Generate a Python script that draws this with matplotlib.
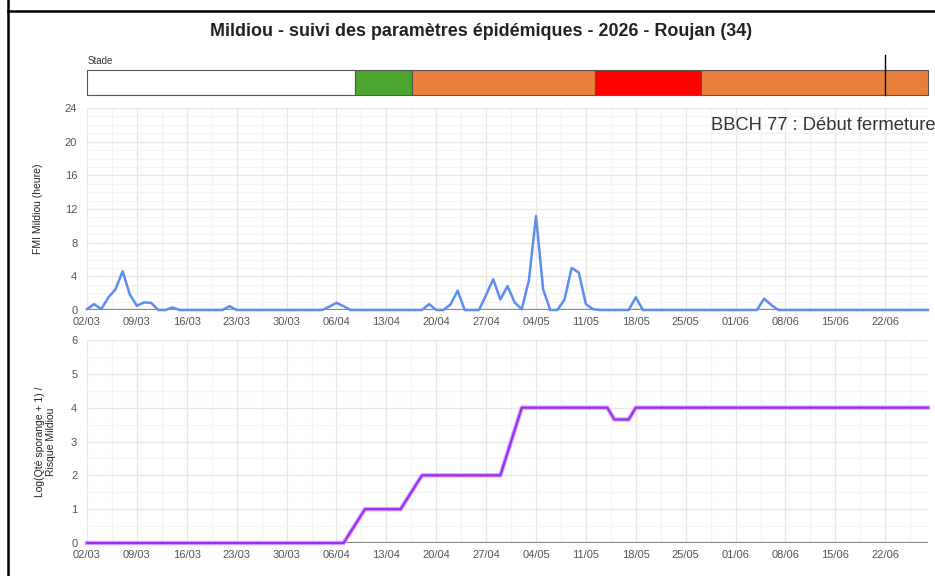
import numpy as np
import matplotlib.pyplot as plt
from matplotlib.lines import Line2D
from matplotlib.ticker import MultipleLocator

plt.rcParams['font.family'] = ['Liberation Sans', 'DejaVu Sans']

# Data, one value per day starting 02/03
fmi = [0.1, 0.7, 0.1, 1.5, 2.45, 4.6, 1.85,      # 02/03
       0.5, 0.9, 0.85, 0, 0, 0.3, 0,             # 09/03
       0, 0, 0, 0, 0, 0, 0.45,                   # 16/03
       0, 0, 0, 0, 0, 0, 0,                      # 23/03
       0, 0, 0, 0, 0, 0, 0.4,                    # 30/03
       0.85, 0.45, 0, 0, 0, 0, 0,                # 06/04
       0, 0, 0, 0, 0, 0, 0.7,                    # 13/04
       0, 0, 0.65, 2.3, 0, 0, 0,                 # 20/04
       1.8, 3.65, 1.25, 2.85, 0.9, 0.1, 3.5,     # 27/04
       11.15, 2.45, 0, 0, 1.25, 5.0, 4.45,       # 04/05
       0.7, 0.1, 0, 0, 0, 0, 0,                  # 11/05
       1.5, 0, 0, 0, 0, 0, 0,                    # 18/05
       0, 0, 0, 0, 0, 0, 0,                      # 25/05
       0, 0, 0, 0, 1.35, 0.6, 0,                 # 01/06
       0, 0, 0, 0, 0, 0, 0,                      # 08/06
       0, 0, 0, 0, 0, 0, 0,                      # 15/06
       0, 0, 0, 0, 0, 0, 0]                      # 22/06

# risk curve vertices (day offset, value)
risk_days = [0, 36, 39, 44, 47, 58, 61, 73, 74, 76, 77, 118]
risk_vals = [0, 0, 1, 1, 2, 2, 4, 4, 3.65, 3.65, 4, 4]

date_labels = ['02/03', '09/03', '16/03', '23/03', '30/03', '06/04', '13/04',
               '20/04', '27/04', '04/05', '11/05', '18/05', '25/05', '01/06',
               '08/06', '15/06', '22/06']

stage_bounds = [0, 37.6, 45.6, 71.3, 86.2, 118]
stage_colors = ['white', '#4ca52f', '#e8803b', '#ff0000', '#e8803b']
today = 112

title = 'Mildiou - suivi des paramètres épidémiques - 2026 - Roujan (34)'
stage_text = 'BBCH 77 : Début fermeture'

days = np.arange(len(fmi))
xmax = 118
tick_pos = np.arange(len(date_labels)) * 7

fig = plt.figure(figsize=(9.35, 5.76), dpi=100)

# frame lines
fig.add_artist(Line2D([8/935, 8/935], [0, 1], color='black', lw=1.8))
fig.add_artist(Line2D([8/935, 1], [1 - 11/576, 1 - 11/576], color='black', lw=1.8))

fig.text(481/935, 1 - 31/576, title, ha='center', va='center',
         fontsize=12.9, fontweight='bold', color='#222222')

# stage bar
axs = fig.add_axes([87/935, 1 - 95/576, 841/935, 25/576])
for i in range(len(stage_colors)):
    axs.barh(0.5, stage_bounds[i+1] - stage_bounds[i], left=stage_bounds[i], height=1,
             color=stage_colors[i], edgecolor='#555555', lw=0.8, clip_on=False)
axs.plot([today, today], [0, 1.6], color='black', lw=1, clip_on=False)
axs.set_xlim(0, xmax)
axs.set_ylim(0, 1)
axs.axis('off')
fig.text(88/935, 1 - 61/576, 'Stade', ha='left', va='center', fontsize=7, color='#333333')


def style(ax, ymax, major, minor):
    ax.set_xlim(0, xmax)
    ax.set_ylim(0, ymax)
    ax.set_xticks(tick_pos)
    ax.set_xticklabels(date_labels)
    ax.xaxis.set_minor_locator(MultipleLocator(3.5))
    ax.yaxis.set_major_locator(MultipleLocator(major))
    ax.yaxis.set_minor_locator(MultipleLocator(minor))
    ax.grid(which='major', color='#e6e6e6', lw=0.9)
    ax.grid(which='minor', color='#f3f3f3', lw=0.9)
    ax.set_axisbelow(True)
    for s in ax.spines.values():
        s.set_visible(False)
    ax.axhline(0, color='#888888', lw=1.6, zorder=1)
    ax.tick_params(which='both', length=0, labelsize=8, labelcolor='#555555')
    ax.tick_params(axis='x', pad=5)
    ax.tick_params(axis='y', pad=7)


ax1 = fig.add_axes([87/935, 1 - 310/576, 841/935, 202/576])
style(ax1, 24, 4, 1)
ax1.plot(days, fmi, color='#5b8ef0', lw=1.8, zorder=3, clip_on=False)
ax1.set_ylabel('FMI Mildiou (heure)', fontsize=7.5, color='#222222', labelpad=16)
fig.text(711/935, 1 - 125/576, stage_text, ha='left', va='center',
         fontsize=13.2, color='#333333')

ax2 = fig.add_axes([87/935, 1 - 543/576, 841/935, 203/576])
style(ax2, 6, 1, 0.5)
ax2.plot(risk_days, risk_vals, color='#d9a6ff', lw=3.2, zorder=3, clip_on=False)
ax2.plot(risk_days, risk_vals, color='#9a2ff0', lw=1.6, zorder=4, clip_on=False)
ax2.set_ylabel('Log(Qté sporange + 1) /\nRisque Mildiou', fontsize=7.5, color='#222222',
               labelpad=11, linespacing=1.1)

fig.savefig('out.png', dpi=100)
